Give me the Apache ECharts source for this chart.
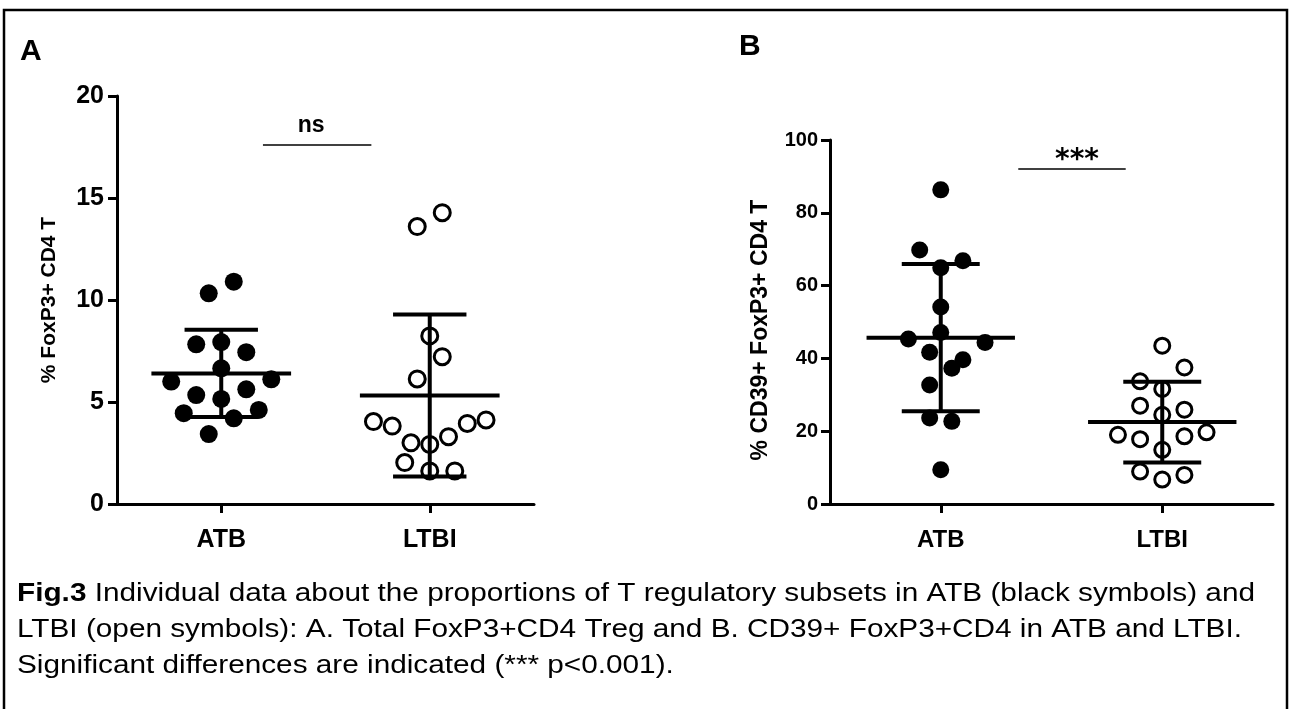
<!DOCTYPE html>
<html>
<head>
<meta charset="utf-8">
<script src="https://cdn.jsdelivr.net/npm/echarts@6/dist/echarts.min.js"></script>
<style>
  html, body { margin: 0; padding: 0; background: #fff; }
  #chart { width: 1290px; height: 709px; }
</style>
</head>
<body>
<div id="chart"></div>
<script>
  const categories = ['ATB', 'LTBI']
  const catPos = [0.5, 1.5]

  // panel A: % FoxP3+ CD4 T
  const atbA_x = [0.44, 0.56, 0.38, 0.5, 0.62, 0.5, 0.26, 0.74, 0.38, 0.62, 0.5, 0.32, 0.68, 0.56, 0.44]
  const atbA_y = [10.33, 10.9, 7.83, 7.94, 7.44, 6.65, 6.0, 6.11, 5.34, 5.62, 5.15, 4.45, 4.61, 4.2, 3.43]
  const ltbiA_x = [1.44, 1.56, 1.5, 1.56, 1.44, 1.23, 1.32, 1.77, 1.68, 1.59, 1.41, 1.5, 1.38, 1.5, 1.62]
  const ltbiA_y = [13.6, 14.28, 8.24, 7.22, 6.13, 4.04, 3.82, 4.12, 3.95, 3.3, 3.0, 2.92, 2.03, 1.62, 1.62]
  const meanA = [6.4, 5.32]
  const sdA = [2.14, 3.97]
  const ticksA = [0, 5, 10, 15, 20]

  // panel B: % CD39+ FoxP3+ CD4 T
  const atbB_x = [0.5, 0.405, 0.5, 0.6, 0.5, 0.5, 0.354, 0.7, 0.45, 0.6, 0.55, 0.45, 0.45, 0.55, 0.5]
  const atbB_y = [86.3, 69.8, 64.9, 66.8, 54.1, 47.1, 45.3, 44.4, 41.7, 39.6, 37.3, 32.7, 23.6, 22.7, 9.4]
  const ltbiB_x = [1.5, 1.6, 1.4, 1.5, 1.4, 1.6, 1.5, 1.3, 1.4, 1.6, 1.7, 1.5, 1.4, 1.6, 1.5]
  const ltbiB_y = [43.5, 37.5, 33.7, 31.6, 27.0, 25.9, 24.5, 19.0, 17.8, 18.6, 19.7, 14.9, 8.9, 8.0, 6.7]
  const meanB = [45.7, 22.5]
  const sdB = [20.2, 11.1]
  const ticksB = [0, 20, 40, 60, 80, 100]

  // significance bars [x1, x2, y, text]
  const sigA = [0.7, 1.22, 17.6, 'ns']
  const sigB = [0.85, 1.335, 92, '***']

  const caption = '{b|Fig.3} Individual data about the proportions of T regulatory subsets in ATB (black symbols) and\n' +
    'LTBI (open symbols): A. Total FoxP3+CD4 Treg and B. CD39+ FoxP3+CD4 in ATB and LTBI.\n' +
    'Significant differences are indicated (*** p<0.001).'

  const zip = (xs, ys) => xs.map((x, i) => [x, ys[i]])

  const chart = echarts.init(document.getElementById('chart'), null, { renderer: 'canvas' })

  const SANS = '"Liberation Sans", Arial, sans-serif'

  const makeX = (gridIndex, fontSize, margin) => ({
    type: 'value',
    gridIndex,
    min: 0,
    max: 2,
    axisLine: { show: true, onZero: false, lineStyle: { color: '#000', width: 3 } },
    axisTick: { show: true, customValues: catPos, length: 9, lineStyle: { color: '#000', width: 3 } },
    axisLabel: {
      show: true,
      customValues: catPos,
      formatter: v => categories[v < 1 ? 0 : 1],
      color: '#000',
      fontFamily: SANS,
      fontWeight: 'bold',
      fontSize,
      margin
    },
    splitLine: { show: false }
  })

  const makeY = (gridIndex, ticks, name, opts) => ({
    type: 'value',
    gridIndex,
    min: ticks[0],
    max: ticks[ticks.length - 1],
    interval: ticks[1] - ticks[0],
    name,
    nameLocation: 'middle',
    nameGap: opts.gap,
    nameRotate: 90,
    nameTextStyle: {
      color: '#000',
      fontFamily: SANS,
      fontWeight: 'bold',
      fontSize: opts.nameSize,
      padding: opts.namePad
    },
    axisLine: { show: true, lineStyle: { color: '#000', width: 3 } },
    axisTick: { show: true, length: 9, lineStyle: { color: '#000', width: 3 } },
    axisLabel: { margin: opts.labelMargin, color: '#000', fontFamily: SANS, fontWeight: 'bold', fontSize: opts.tickSize },
    splitLine: { show: false }
  })

  // mean line with SD whiskers
  const meanSd = (xi, yi, means, sds) => ({
    type: 'custom',
    xAxisIndex: xi,
    yAxisIndex: yi,
    z: 5,
    silent: true,
    data: catPos.map((x, i) => [x, means[i], sds[i]]),
    renderItem: (params, api) => {
      const x = api.value(0)
      const m = api.value(1)
      const s = api.value(2)
      const pL = api.coord([x - 0.335, m])
      const pR = api.coord([x + 0.335, m])
      const top = api.coord([x, m + s])
      const bot = api.coord([x, m - s])
      const capL = api.coord([x - 0.176, 0])[0]
      const capR = api.coord([x + 0.176, 0])[0]
      const st = { stroke: '#000', lineWidth: 4 }
      return {
        type: 'group',
        children: [
          { type: 'line', shape: { x1: pL[0], y1: pL[1], x2: pR[0], y2: pR[1] }, style: st },
          { type: 'line', shape: { x1: top[0], y1: top[1], x2: bot[0], y2: bot[1] }, style: st },
          { type: 'line', shape: { x1: capL, y1: top[1], x2: capR, y2: top[1] }, style: st },
          { type: 'line', shape: { x1: capL, y1: bot[1], x2: capR, y2: bot[1] }, style: st }
        ]
      }
    }
  })

  const sigLine = (xi, yi, sig, lbl) => ({
    type: 'line',
    xAxisIndex: xi,
    yAxisIndex: yi,
    data: [],
    silent: true,
    markLine: {
      symbol: 'none',
      silent: true,
      lineStyle: { color: '#000', width: 1.5, type: 'solid' },
      label: Object.assign({
        show: true,
        position: 'insideMiddleTop',
        formatter: sig[3],
        color: '#000',
        fontWeight: 'bold'
      }, lbl),
      data: [[{ coord: [sig[0], sig[2]] }, { coord: [sig[1], sig[2]] }]]
    }
  })

  const filled = (xi, yi, data, size) => ({
    type: 'scatter',
    xAxisIndex: xi,
    yAxisIndex: yi,
    symbol: 'circle',
    symbolSize: size,
    itemStyle: { color: '#000', opacity: 1 },
    data
  })

  const open = (xi, yi, data, size) => ({
    type: 'scatter',
    xAxisIndex: xi,
    yAxisIndex: yi,
    symbol: 'circle',
    symbolSize: size,
    itemStyle: { color: 'rgba(0,0,0,0)', borderColor: '#000', borderWidth: 3, opacity: 1 },
    data
  })

  const option = {
    animation: false,
    backgroundColor: '#fff',
    title: [
      { text: 'A', left: 15, top: 32, textStyle: { fontFamily: SANS, fontWeight: 'bold', fontSize: 30, color: '#000' } },
      { text: 'B', left: 734, top: 27, textStyle: { fontFamily: SANS, fontWeight: 'bold', fontSize: 30, color: '#000' } }
    ],
    graphic: [
      { type: 'rect', shape: { x: 4, y: 10, width: 1283, height: 760 }, style: { fill: 'none', stroke: '#000', lineWidth: 2.5 }, silent: true },
      {
        type: 'text',
        x: 17,
        y: 576,
        scaleX: 1.19,
        silent: true,
        style: {
          x: 0,
          y: 0,
          text: caption,
          fill: '#000',
          fontFamily: SANS,
          fontSize: 25,
          lineHeight: 36,
          rich: {
            b: { fontFamily: SANS, fontWeight: 'bold', fontSize: 25, lineHeight: 36, fill: '#000' }
          }
        }
      }
    ],
    grid: [
      { left: 117, right: 756, top: 96, bottom: 205 },
      { left: 830, right: 17, top: 140, bottom: 205 }
    ],
    xAxis: [makeX(0, 25, 24), makeX(1, 24, 24)],
    yAxis: [
      makeY(0, ticksA, '% FoxP3+ CD4 T', { gap: 57, nameSize: 21, namePad: 0, tickSize: 25, labelMargin: 13 }),
      makeY(1, ticksB, '% CD39+ FoxP3+ CD4 T', { gap: 58, nameSize: 23, namePad: [0, 16, 0, 0], tickSize: 20, labelMargin: 12 })
    ],
    series: [
      filled(0, 0, zip(atbA_x, atbA_y), 18),
      open(0, 0, zip(ltbiA_x, ltbiA_y), 16),
      meanSd(0, 0, meanA, sdA),
      sigLine(0, 0, sigA, { distance: 8, offset: [-6, 0], fontFamily: SANS, fontSize: 23 }),
      filled(1, 1, zip(atbB_x, atbB_y), 17),
      open(1, 1, zip(ltbiB_x, ltbiB_y), 15),
      meanSd(1, 1, meanB, sdB),
      sigLine(1, 1, sigB, { distance: 0, offset: [5, 6], fontFamily: '"DejaVu Sans", sans-serif', fontSize: 28 })
    ]
  }

  chart.setOption(option)
  window.addEventListener('resize', () => chart.resize())
</script>
</body>
</html>
